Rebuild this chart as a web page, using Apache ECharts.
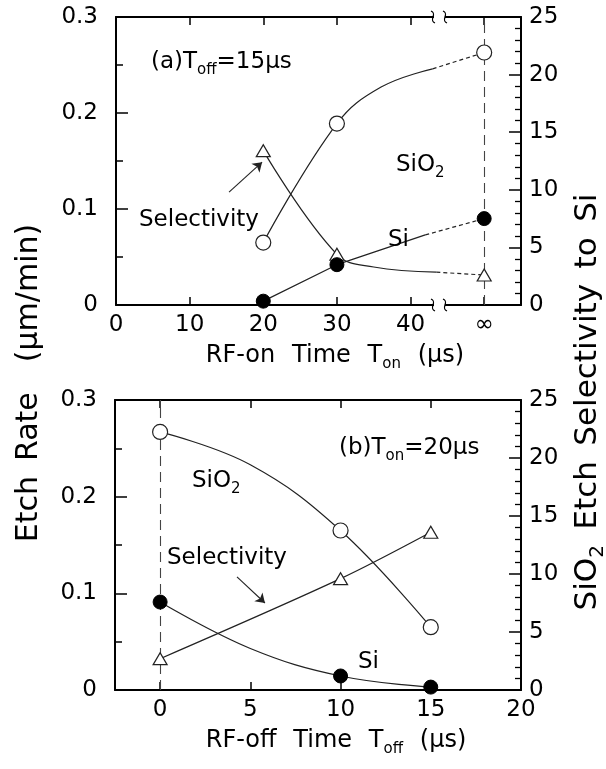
<!DOCTYPE html>
<html><head><meta charset="utf-8">
<script src="https://cdn.jsdelivr.net/npm/echarts@6/dist/echarts.min.js"></script>
<style>html,body{margin:0;padding:0;background:#fff}#c{width:606px;height:769px}</style>
</head><body><div id="c"></div>
<script>
// ---------- panel (a): T_off = 15 µs, x = RF-on time (50 stands for ∞) ----------
const onTime = [20, 30, 50];
const onSiO2 = [0.065, 0.189, 0.263];   // etch rate µm/min (open circles)
const onSi   = [0.004, 0.042, 0.090];   // etch rate µm/min (filled circles)
const onSel  = [13.4, 4.4, 2.6];        // selectivity (triangles, right axis)
// fitted guide curves
const onSiO2Solid = [[20, 0.065], [30, 0.189], [36, 0.227], [43, 0.246]];
const onSiO2Dot   = [[43, 0.246], [50, 0.263]];
const onSiSolid   = [[20, 0.004], [30, 0.042], [42, 0.073]];
const onSiDot     = [[42, 0.073], [50, 0.090]];
const onSelSolid  = [[20, 13.4], [30, 4.4], [35, 3.3], [43.5, 2.85]];
const onSelDot    = [[43.5, 2.85], [50, 2.6]];
const onTicks = [0, 10, 20, 30, 40, 50];

// ---------- panel (b): T_on = 20 µs, x = RF-off time ----------
const offTime = [0, 10, 15];
const offSiO2 = [0.267, 0.165, 0.065];
const offSi   = [0.091, 0.0145, 0.003];
const offSel  = [2.7, 9.6, 13.6];
const offSiO2Curve = [[0, 0.267], [5, 0.233], [10, 0.165], [15, 0.065]];
const offSiCurve   = [[0, 0.091], [5, 0.043], [10, 0.0145], [15, 0.003]];
const offSelCurve  = [[0, 2.7], [10, 9.6], [15, 13.6]];
const offTicks = [0, 5, 10, 15, 20];

const FONT = 'DejaVu Sans';
const INK = '#000';
const chart = echarts.init(document.getElementById('c'), null, {renderer: 'canvas'});

function xAx(grid, pos, min, max, ticks, labels) {
  return {
    type: 'value', gridIndex: grid, position: pos, min: min, max: max,
    axisLine: {show: true, onZero: false, lineStyle: {color: INK, width: 2}},
    axisTick: {show: true, inside: true, length: 8, customValues: ticks, lineStyle: {color: INK, width: 1.5}},
    axisLabel: {show: labels, customValues: ticks, margin: 9, color: INK, fontSize: 23, fontFamily: FONT,
      formatter: v => (v === 50 && max === 55) ? '∞' : String(v)},
    splitLine: {show: false}, minorTick: {show: false}
  };
}
function yLeft(grid) {
  return {
    type: 'value', gridIndex: grid, position: 'left', min: 0, max: 0.3, interval: 0.1,
    axisLine: {show: true, onZero: false, lineStyle: {color: INK, width: 2}},
    axisTick: {show: true, inside: true, length: 12, lineStyle: {color: INK, width: 1.5}},
    minorTick: {show: true, splitNumber: 2, length: 7, lineStyle: {color: INK, width: 1.5}},
    axisLabel: {margin: 18, color: INK, fontSize: 23, fontFamily: FONT,
      formatter: v => v === 0 ? '0' : v.toFixed(1)},
    splitLine: {show: false}, minorSplitLine: {show: false}
  };
}
function yRight(grid) {
  return {
    type: 'value', gridIndex: grid, position: 'right', min: 0, max: 25, interval: 5,
    axisLine: {show: true, onZero: false, lineStyle: {color: INK, width: 2}},
    axisTick: {show: true, inside: true, length: 12, lineStyle: {color: INK, width: 1.5}},
    minorTick: {show: true, splitNumber: 5, length: 6, lineStyle: {color: INK, width: 1.3}},
    axisLabel: {margin: 8, color: INK, fontSize: 23, fontFamily: FONT},
    splitLine: {show: false}, minorSplitLine: {show: false}
  };
}
function curve(data, xi, yi, smooth, dotted) {
  return {type: 'line', xAxisIndex: xi, yAxisIndex: yi, data: data, smooth: smooth,
    symbol: 'none', showSymbol: false, silent: true,
    lineStyle: {color: '#222', width: 1.2, type: dotted ? [4, 3] : 'solid'}};
}
function pts(xs, ys) { return xs.map((x, i) => [x, ys[i]]); }
function markers(data, xi, yi, kind, extra) {
  const s = {type: 'scatter', xAxisIndex: xi, yAxisIndex: yi, data: data, silent: true, z: 5};
  if (kind === 'open') { s.symbol = 'circle'; s.symbolSize = 15; s.itemStyle = {color: '#fff', borderColor: '#222', borderWidth: 1.2, opacity: 1}; }
  if (kind === 'fill') { s.symbol = 'circle'; s.symbolSize = 14; s.itemStyle = {color: '#000', borderColor: '#000', borderWidth: 1, opacity: 1}; }
  if (kind === 'tri')  { s.symbol = 'triangle'; s.symbolSize = [14, 12]; s.itemStyle = {color: '#fff', borderColor: '#222', borderWidth: 1.2, opacity: 1}; }
  return Object.assign(s, extra || {});
}
function vDash(x) {
  return {silent: true, symbol: 'none', label: {show: false}, animation: false,
    lineStyle: {type: [10, 6], color: '#444', width: 1.1}, data: [{xAxis: x}]};
}
function arrow(from, to) {
  return {silent: true, symbol: ['none', 'arrow'], symbolSize: 9, label: {show: false}, animation: false,
    lineStyle: {type: 'solid', color: '#222', width: 1.1}, data: [[{coord: from}, {coord: to}]]};
}

const SUB = {fontSize: 15, fontFamily: FONT, verticalAlign: 'bottom', lineHeight: 32, fill: INK};
function label(x, y, text, size, rot, align) {
  const el = {type: 'text', x: x, y: y, z: 100, silent: true,
    style: {text: text, fill: INK, fontSize: size, fontFamily: FONT, lineHeight: 32,
      align: align || 'left', textAlign: align || 'left', verticalAlign: 'middle', textVerticalAlign: 'middle',
      rich: {s: SUB, s2: {fontSize: 20, fontFamily: FONT, verticalAlign: 'bottom', lineHeight: 40, fill: INK}}}};
  if (rot) { el.rotation = rot; el.style.lineHeight = 40; }
  return el;
}
function squiggle(x, y) {
  return {type: 'bezierCurve', silent: true, z: 101,
    shape: {x1: x - 2, y1: y - 6, cpx1: x + 5, cpy1: y - 3, cpx2: x - 5, cpy2: y + 3, x2: x + 2, y2: y + 6},
    style: {stroke: INK, lineWidth: 1.3, fill: null}};
}
const GAP = '\u2002\u2009';

const option = {
  animation: false,
  backgroundColor: '#fff',
  grid: [
    {left: 116, top: 17, width: 405, height: 288, outerBoundsMode: 'none'},
    {left: 115, top: 400, width: 406, height: 290, outerBoundsMode: 'none'}
  ],
  xAxis: [
    xAx(0, 'bottom', 0, 55, onTicks, true),
    xAx(0, 'top', 0, 55, onTicks, false),
    xAx(1, 'bottom', -2.5, 20, offTicks, true),
    xAx(1, 'top', -2.5, 20, offTicks, false)
  ],
  yAxis: [yLeft(0), yRight(0), yLeft(1), yRight(1)],
  series: [
    curve(onSiO2Solid, 0, 0, 0.4, false),
    curve(onSiO2Dot, 0, 0, false, true),
    curve(onSiSolid, 0, 0, false, false),
    curve(onSiDot, 0, 0, false, true),
    curve(onSelSolid, 0, 1, 0.4, false),
    curve(onSelDot, 0, 1, false, true),
    markers(pts(onTime, onSel), 0, 1, 'tri', {markLine: vDash(50)}),
    markers(pts(onTime, onSiO2), 0, 0, 'open', {markLine: arrow([15.35, 0.1176], [19.84, 0.1488])}),
    markers(pts(onTime, onSi), 0, 0, 'fill'),

    curve(offSiO2Curve, 2, 2, 0.4, false),
    curve(offSiCurve, 2, 2, 0.4, false),
    curve(offSelCurve, 2, 3, 0.3, false),
    markers(pts(offTime, offSel), 2, 3, 'tri', {markLine: vDash(0)}),
    markers(pts(offTime, offSiO2), 2, 2, 'open', {markLine: arrow([4.26, 0.117], [5.81, 0.090])}),
    markers(pts(offTime, offSi), 2, 2, 'fill')
  ],
  graphic: [
    // axis titles
    label(29, 383, 'Etch\u2002Rate\u2003(µm/min)', 30, Math.PI / 2, 'center'),
    label(588, 402, 'SiO{s2|2}\u2002Etch\u2002Selectivity\u2002to\u2002Si', 31, Math.PI / 2, 'center'),
    label(335, 356, 'RF-on' + GAP + 'Time' + GAP + 'T{s|on}' + GAP + '(µs)', 24, 0, 'center'),
    label(336, 741, 'RF-off' + GAP + 'Time' + GAP + 'T{s|off}' + GAP + '(µs)', 24, 0, 'center'),
    // panel (a) annotations
    label(151, 62, '(a)T{s|off}=15µs', 23),
    label(396, 165, 'SiO{s|2}', 23),
    label(139, 220, 'Selectivity', 23),
    label(388, 240, 'Si', 23),
    // panel (b) annotations
    label(339, 448, '(b)T{s|on}=20µs', 23),
    label(192, 481, 'SiO{s|2}', 23),
    label(167, 558, 'Selectivity', 23),
    label(358, 662, 'Si', 23),
    // axis break marks on panel (a)
    {type: 'rect', silent: true, z: 100, shape: {x: 434, y: 13, width: 11, height: 8}, style: {fill: '#fff'}},
    {type: 'rect', silent: true, z: 100, shape: {x: 434, y: 301, width: 11, height: 8}, style: {fill: '#fff'}},
    squiggle(433, 17), squiggle(445, 17),
    squiggle(433, 305), squiggle(445, 305)
  ]
};
chart.setOption(option);
</script>
</body></html>
